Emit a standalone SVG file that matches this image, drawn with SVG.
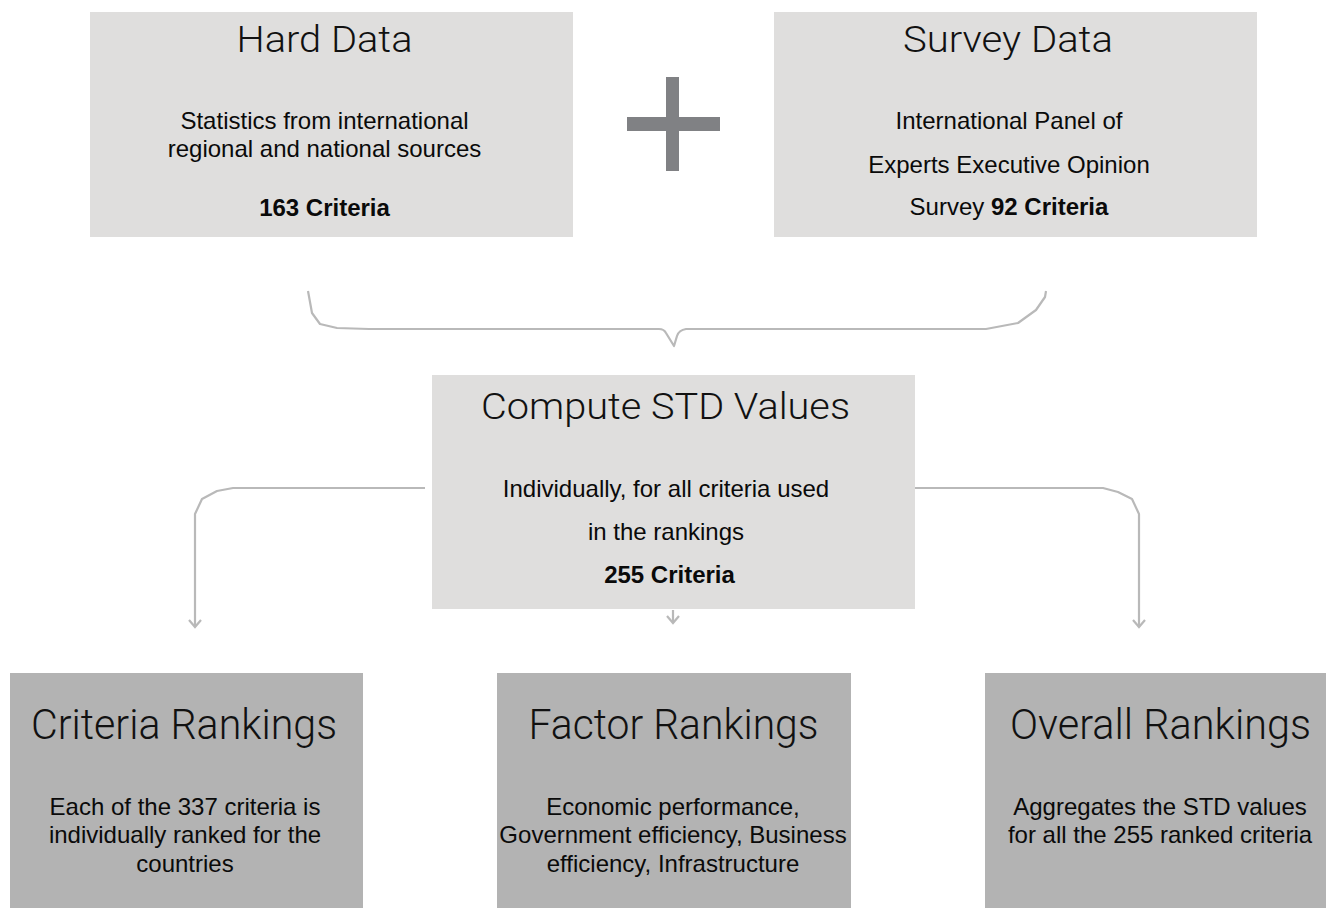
<svg xmlns="http://www.w3.org/2000/svg" width="1326" height="908" viewBox="0 0 1326 908">
  <style>
    .top { fill: #dfdedd; }
    .bot { fill: #b3b3b3; }
    .title { font-family: Roboto, "Liberation Sans", sans-serif; font-weight: 300; fill: #111; text-anchor: middle; }
    .t1 { font-size: 37px; }
    .t2 { font-size: 43px; }
    .body { font-family: "Liberation Sans", Arial, sans-serif; font-size: 24px; fill: #0a0a0a; text-anchor: middle; }
    .b { font-weight: bold; }
    .conn { fill: none; stroke: #b9b9b9; stroke-width: 2.2; stroke-linejoin: round; }
    .plus { fill: #808184; }
  </style>
  <defs>
    <marker id="chev" markerUnits="userSpaceOnUse" viewBox="-10 -8 12 16" refX="0" refY="0" markerWidth="12" markerHeight="16" orient="auto" overflow="visible">
      <path d="M-7,-6 L0,0 L-7,6" fill="none" stroke="#b9b9b9" stroke-width="2.2" stroke-linejoin="miter"/>
    </marker>
  </defs>
  <rect width="1326" height="908" fill="#ffffff"/>

  <g id="connectors">
    <path class="conn" d="M308 291 L312 313 L320 324 L337 328 L369 329 L659 329 Q664 329 666 333 L674 346 L677 336 Q679 330 686 329 L986 329 L1018 323 L1036 310 L1045 297 L1046 291"/>
    <path class="conn" d="M425 488 L233 488 L217 491 L202 499 L195 514 L195 627" marker-end="url(#chev)"/>
    <path class="conn" d="M915 488 L1103 488 L1118 492 L1132 499 L1139 514 L1139 627" marker-end="url(#chev)"/>
    <path class="conn" d="M673 610 L673 623" marker-end="url(#chev)"/>
  </g>

  <g id="plus">
    <rect class="plus" x="666" y="77" width="13" height="94"/>
    <rect class="plus" x="627" y="117" width="93" height="14"/>
  </g>

  <g id="hard-data">
    <rect class="top" x="90" y="12" width="483" height="225"/>
    <text class="title t1" x="324.5" y="52" textLength="176" lengthAdjust="spacingAndGlyphs">Hard Data</text>
    <text class="body" x="324.5" y="129">Statistics from international</text>
    <text class="body" x="324.5" y="157">regional and national sources</text>
    <text class="body b" x="324.5" y="216">163 Criteria</text>
  </g>

  <g id="survey-data">
    <rect class="top" x="774" y="12" width="483" height="225"/>
    <text class="title t1" x="1008" y="52" textLength="210" lengthAdjust="spacingAndGlyphs">Survey Data</text>
    <text class="body" x="1009" y="129">International Panel of</text>
    <text class="body" x="1009" y="173">Experts Executive Opinion</text>
    <text class="body" x="1009" y="215">Survey <tspan class="b">92 Criteria</tspan></text>
  </g>

  <g id="compute-std">
    <rect class="top" x="432" y="375" width="483" height="234"/>
    <text class="title t1" x="665.5" y="419" textLength="369" lengthAdjust="spacingAndGlyphs">Compute STD Values</text>
    <text class="body" x="666" y="497">Individually, for all criteria used</text>
    <text class="body" x="666" y="540">in the rankings</text>
    <text class="body b" x="669.5" y="583">255 Criteria</text>
  </g>

  <g id="criteria-rankings">
    <rect class="bot" x="10" y="673" width="353" height="240"/>
    <text class="title t2" x="184" y="739" textLength="306" lengthAdjust="spacingAndGlyphs">Criteria Rankings</text>
    <text class="body" x="185" y="815">Each of the 337 criteria is</text>
    <text class="body" x="185" y="843">individually ranked for the</text>
    <text class="body" x="185" y="872">countries</text>
  </g>

  <g id="factor-rankings">
    <rect class="bot" x="497" y="673" width="354" height="240"/>
    <text class="title t2" x="673.5" y="739" textLength="290" lengthAdjust="spacingAndGlyphs">Factor Rankings</text>
    <text class="body" x="673" y="815">Economic performance,</text>
    <text class="body" x="673" y="843">Government efficiency, Business</text>
    <text class="body" x="673" y="872">efficiency, Infrastructure</text>
  </g>

  <g id="overall-rankings">
    <rect class="bot" x="985" y="673" width="353" height="240"/>
    <text class="title t2" x="1160.5" y="739" textLength="301" lengthAdjust="spacingAndGlyphs">Overall Rankings</text>
    <text class="body" x="1160" y="815">Aggregates the STD values</text>
    <text class="body" x="1160" y="843">for all the 255 ranked criteria</text>
  </g>
</svg>
